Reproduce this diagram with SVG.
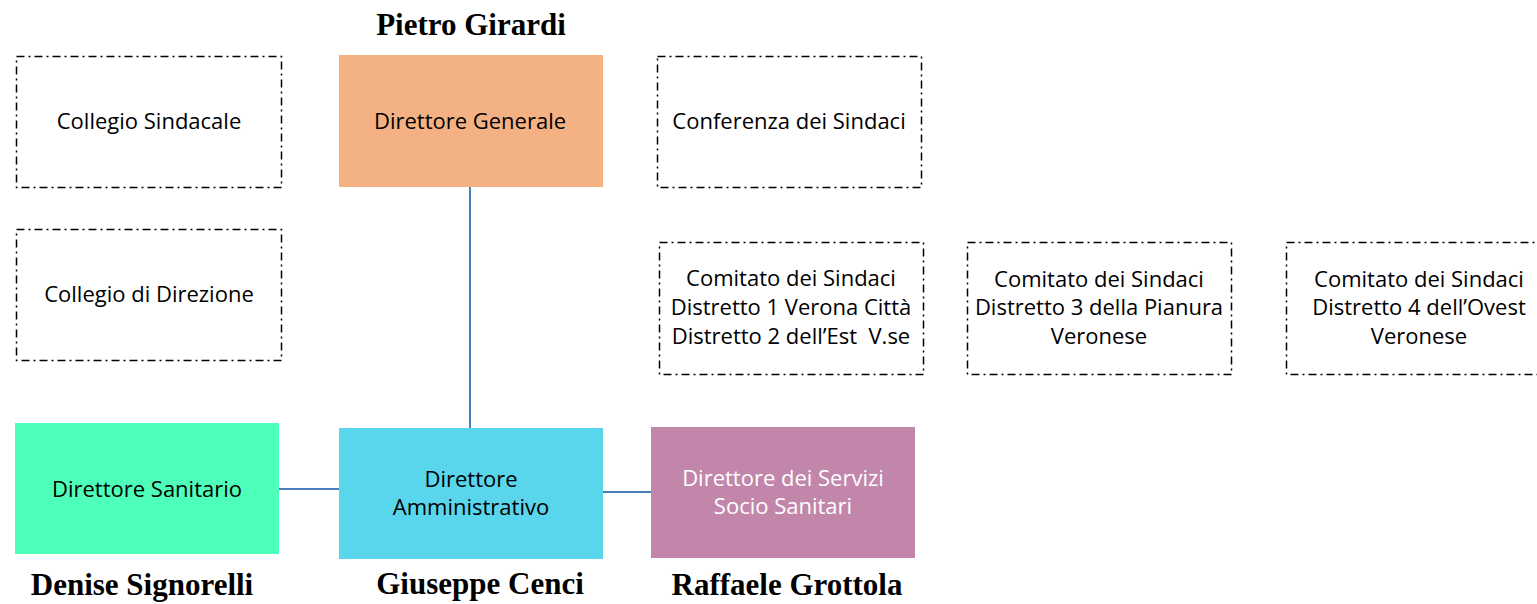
<svg xmlns="http://www.w3.org/2000/svg" width="1537" height="604" viewBox="0 0 1537 604">
<style>
.dd{fill:#fff;stroke:#000;stroke-width:1.5;stroke-dasharray:8 4 2 4}
.t{font-family:"Open Sans","Liberation Sans",sans-serif;font-size:22px;fill:#000;text-anchor:middle}
.w{fill:#fff}
.n{font-family:"Liberation Serif",serif;font-weight:bold;font-size:31px;fill:#000;text-anchor:middle}
.c{stroke:#4A7EBB;stroke-width:2;fill:none}
</style>
<rect width="1537" height="604" fill="#fff"/>
<g id="connectors">
<line class="c" x1="470" y1="187" x2="470" y2="428"/>
<line class="c" x1="279" y1="489" x2="339" y2="489"/>
<line class="c" x1="603" y1="492" x2="651" y2="492"/>
</g>
<g id="collegio-sindacale">
<rect class="dd" x="16.5" y="56.5" width="265" height="131"/>
<text class="t" x="149" y="129">Collegio Sindacale</text>
</g>
<g id="collegio-direzione">
<rect class="dd" x="16.5" y="229.5" width="265" height="131"/>
<text class="t" x="149" y="302">Collegio di Direzione</text>
</g>
<g id="direttore-generale">
<text class="n" x="471" y="35">Pietro Girardi</text>
<rect x="339" y="55" width="264" height="132" fill="#F3B184"/>
<text class="t" x="470" y="129">Direttore Generale</text>
</g>
<g id="conferenza">
<rect class="dd" x="657.5" y="56.5" width="264" height="131"/>
<text class="t" x="789" y="129">Conferenza dei Sindaci</text>
</g>
<g id="comitato-1">
<rect class="dd" x="659.5" y="242.5" width="264" height="132"/>
<text class="t" x="791" y="286">Comitato dei Sindaci</text>
<text class="t" x="791" y="315">Distretto 1 Verona Città</text>
<text class="t" x="791" y="344" xml:space="preserve">Distretto 2 dell’Est  V.se</text>
</g>
<g id="comitato-3">
<rect class="dd" x="967.5" y="242.5" width="264" height="132"/>
<text class="t" x="1099" y="287">Comitato dei Sindaci</text>
<text class="t" x="1099" y="315">Distretto 3 della Pianura</text>
<text class="t" x="1099" y="344">Veronese</text>
</g>
<g id="comitato-4">
<rect class="dd" x="1286.5" y="242.5" width="264" height="132"/>
<text class="t" x="1419" y="287">Comitato dei Sindaci</text>
<text class="t" x="1419" y="315">Distretto 4 dell’Ovest</text>
<text class="t" x="1419" y="344">Veronese</text>
</g>
<g id="direttore-sanitario">
<rect x="15" y="423" width="264" height="131" fill="#4DFFB8"/>
<text class="t" x="147" y="497">Direttore Sanitario</text>
<text class="n" x="142" y="595">Denise Signorelli</text>
</g>
<g id="direttore-amministrativo">
<rect x="339" y="428" width="264" height="131" fill="#59D5EC"/>
<text class="t" x="471" y="487">Direttore</text>
<text class="t" x="471" y="515">Amministrativo</text>
<text class="n" x="480" y="594">Giuseppe Cenci</text>
</g>
<g id="direttore-servizi">
<rect x="651" y="427" width="264" height="131" fill="#C386AB"/>
<text class="t w" x="783" y="486">Direttore dei Servizi</text>
<text class="t w" x="783" y="514">Socio Sanitari</text>
<text class="n" x="787" y="595">Raffaele Grottola</text>
</g>
</svg>
